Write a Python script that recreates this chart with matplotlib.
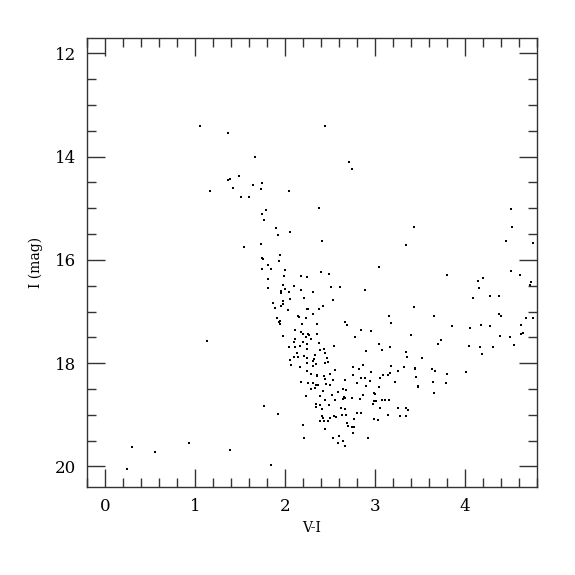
import numpy as np
import matplotlib.pyplot as plt
from matplotlib.ticker import MultipleLocator

# V-I colour and I magnitude
v_i = [
    1.06, 1.37, 1.37, 1.39, 1.42, 2.45, 1.67, 2.71, 2.74, 1.49, 1.64, 1.75, 1.17,
    1.73, 2.04, 1.51, 1.60, 2.38, 1.79, 1.74, 1.77, 1.90, 2.06, 1.92, 2.41, 1.73,
    1.54, 1.94, 1.75, 1.76, 1.93, 1.81, 1.85, 1.75, 2.00, 3.05, 2.40, 2.49, 1.99,
    2.18, 2.25, 1.81, 1.98, 2.10, 2.51, 2.61, 1.81, 2.00, 2.18, 2.89, 1.96, 1.96,
    2.04, 2.31, 2.06, 2.21, 2.53, 1.87, 1.98, 1.98, 1.96, 2.42, 1.89, 2.03, 2.24,
    2.26, 2.38, 2.31, 2.14, 2.16, 2.23, 1.91, 1.94, 1.93, 1.94, 2.19, 2.36, 2.67,
    2.69, 2.85, 2.96, 2.11, 2.18, 2.20, 2.26, 2.27, 2.36, 1.98, 2.23, 2.78,
    2.11, 2.29, 2.10, 2.20, 2.24, 2.38, 2.55, 3.04, 2.04, 2.11, 2.17, 2.24, 3.08,
    2.39, 2.43, 2.90, 2.13, 2.44, 2.21, 2.14, 2.24, 2.33, 2.32, 2.10, 2.06, 2.47,
    2.44, 2.48, 2.31, 2.34, 2.24, 2.07, 2.17, 2.31, 2.25, 2.56, 2.76, 2.82, 2.87,
    2.96, 3.09, 2.29, 2.36, 2.36, 2.43, 2.50, 2.44, 2.53, 2.67, 2.76, 2.84, 2.89,
    2.94, 3.06, 2.18, 2.26, 2.31, 2.34, 2.37, 2.46, 2.50, 2.80, 3.04, 2.90, 2.29,
    2.33, 2.64, 2.68, 2.42, 2.59, 2.99, 3.00, 2.52, 2.39, 2.23, 2.66, 2.87, 2.67,
    3.08, 3.11, 2.45, 2.56, 2.64, 2.75, 2.83, 2.99, 3.01, 2.34, 2.34, 2.39, 2.49,
    2.62, 2.67, 2.98, 3.06, 1.77, 2.41, 2.80, 2.84, 1.92, 2.63, 2.68, 2.54, 2.57,
    2.50, 2.41, 2.42, 2.77, 2.99, 3.03, 2.39, 2.43, 2.48, 2.69, 2.70, 2.20, 2.74,
    2.77, 2.44, 2.76, 2.21, 2.53, 2.60, 2.92, 2.59, 2.65, 2.67, 1.85,
    4.51, 4.52, 3.43, 4.46, 4.76, 3.34, 4.51, 4.61, 3.80, 4.20, 4.14, 4.73, 4.72,
    4.16, 4.28, 4.38, 4.09, 3.43, 3.16, 3.66, 4.38, 4.40, 4.68, 4.76, 3.18, 3.85,
    3.86, 4.06, 4.18, 4.28, 4.62, 3.40, 4.39, 4.50, 4.62, 4.64,
    3.73, 3.70, 3.17, 4.04, 4.17, 4.31, 4.54, 3.34, 3.36, 3.52, 4.19, 3.18, 3.32,
    3.45, 3.45, 3.63, 3.67, 3.26, 3.17, 3.15, 3.80, 4.01, 3.46, 3.22, 3.48, 3.48,
    3.65, 3.79, 3.66, 3.16, 3.26, 3.35, 3.37, 3.14, 3.28, 3.35,
    1.13, 0.30, 0.56, 0.94, 1.39, 0.25,
]
i_mag = [
    13.41, 13.54, 14.46, 14.44, 14.61, 13.40, 14.01, 14.11, 14.23, 14.38, 14.55, 14.51, 14.66,
    14.63, 14.66, 14.79, 14.79, 15.00, 15.04, 15.12, 15.23, 15.39, 15.45, 15.51, 15.63, 15.69,
    15.75, 15.90, 15.96, 15.98, 16.03, 16.10, 16.17, 16.18, 16.19, 16.14, 16.24, 16.28, 16.32,
    16.32, 16.34, 16.37, 16.49, 16.50, 16.52, 16.53, 16.54, 16.57, 16.59, 16.59, 16.61, 16.65,
    16.63, 16.63, 16.76, 16.74, 16.77, 16.83, 16.79, 16.86, 16.89, 16.89, 16.94, 16.97, 16.95,
    16.95, 16.95, 17.05, 17.08, 17.11, 17.12, 17.13, 17.18, 17.21, 17.25, 17.24, 17.25, 17.20,
    17.26, 17.35, 17.37, 17.35, 17.40, 17.43, 17.43, 17.46, 17.44, 17.47, 17.50, 17.49,
    17.53, 17.54, 17.60, 17.59, 17.62, 17.61, 17.66, 17.63, 17.68, 17.68, 17.67, 17.72, 17.75,
    17.75, 17.73, 17.76, 17.81, 17.81, 17.86, 17.88, 17.90, 17.85, 17.92, 17.88, 17.94, 17.91,
    17.99, 17.98, 17.95, 18.01, 17.99, 18.03, 18.07, 18.05, 18.15, 18.13, 18.08, 18.12, 18.03,
    18.17, 18.23, 18.21, 18.23, 18.25, 18.25, 18.21, 18.30, 18.33, 18.33, 18.23, 18.28, 18.28,
    18.34, 18.28, 18.36, 18.39, 18.39, 18.42, 18.43, 18.41, 18.42, 18.39, 18.46, 18.44, 18.50,
    18.49, 18.50, 18.53, 18.54, 18.55, 18.57, 18.59, 18.61, 18.63, 18.63, 18.65, 18.62, 18.68,
    18.71, 18.71, 18.72, 18.72, 18.70, 18.67, 18.70, 18.73, 18.73, 18.79, 18.84, 18.82, 18.81,
    18.87, 18.88, 18.79, 18.86, 18.83, 18.88, 18.96, 18.96, 18.98, 19.00, 19.00, 19.02, 19.05,
    19.06, 19.03, 19.06, 19.08, 19.08, 19.11, 19.13, 19.13, 19.13, 19.15, 19.22, 19.20, 19.24,
    19.23, 19.28, 19.35, 19.45, 19.45, 19.42, 19.45, 19.54, 19.51, 19.61, 19.97,
    15.01, 15.37, 15.37, 15.63, 15.68, 15.72, 16.21, 16.29, 16.30, 16.35, 16.41, 16.43, 16.48,
    16.55, 16.70, 16.70, 16.74, 16.91, 17.09, 17.09, 17.05, 17.08, 17.12, 17.13, 17.22, 17.29,
    17.28, 17.32, 17.27, 17.29, 17.26, 17.45, 17.47, 17.50, 17.43, 17.41,
    17.55, 17.62, 17.68, 17.66, 17.69, 17.68, 17.64, 17.79, 17.88, 17.90, 17.83, 18.06, 18.07,
    18.10, 18.12, 18.11, 18.16, 18.15, 18.19, 18.23, 18.21, 18.17, 18.26, 18.37, 18.44, 18.46,
    18.37, 18.39, 18.57, 18.71, 18.86, 18.87, 18.90, 19.01, 19.02, 19.02,
    17.57, 19.62, 19.73, 19.55, 19.68, 20.06,
]

fig = plt.figure(figsize=(5.75, 5.75), dpi=100)
ax = fig.add_axes([0.151, 0.153, 0.783, 0.781])

ax.scatter(v_i, i_mag, s=3, c="black", marker="s", linewidths=0)

ax.set_xlim(-0.2, 4.8)
ax.set_ylim(20.4, 11.7)
ax.xaxis.set_major_locator(MultipleLocator(1))
ax.xaxis.set_minor_locator(MultipleLocator(0.2))
ax.yaxis.set_major_locator(MultipleLocator(2))
ax.yaxis.set_minor_locator(MultipleLocator(0.5))
ax.tick_params(which="both", direction="in", top=True, right=True,
               color="#333333", width=1)
ax.tick_params(which="major", length=13, labelsize=12, pad=8)
ax.tick_params(which="minor", length=6.5)
for lbl in ax.get_xticklabels() + ax.get_yticklabels():
    lbl.set_family("DejaVu Serif")
for sp in ax.spines.values():
    sp.set_color("#333333")
    sp.set_linewidth(1)

ax.set_xlabel("V-I", family="DejaVu Serif", fontsize=10, labelpad=4)
ax.set_ylabel("I (mag)", family="DejaVu Serif", fontsize=10, labelpad=8)

fig.savefig("out.png", dpi=100)
plt.close(fig)
